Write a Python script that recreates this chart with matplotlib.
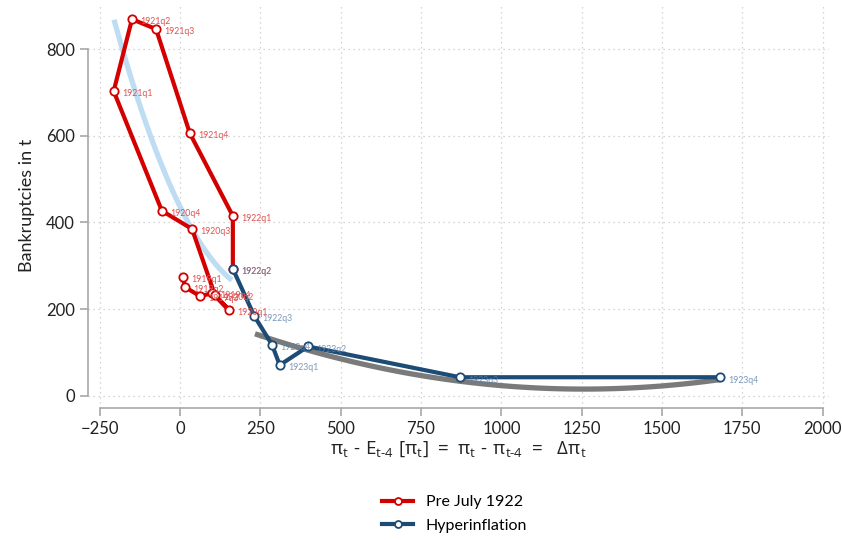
import numpy as np
import matplotlib.pyplot as plt
from matplotlib.lines import Line2D

plt.rcParams['font.family'] = ['Lato', 'DejaVu Sans']
plt.rcParams['mathtext.fontset'] = 'custom'
plt.rcParams['mathtext.rm'] = 'Open Sans'
plt.rcParams['mathtext.it'] = 'Open Sans'

# pre July 1922 quarters
pre_lab = ['1919q1', '1919q2', '1919q3', '1919q4', '1920q1', '1920q2', '1920q3',
           '1920q4', '1921q1', '1921q2', '1921q3', '1921q4', '1922q1', '1922q2']
pre_x = [8, 15, 62, 100, 152, 108, 37, -57, -207, -150, -75, 30, 164, 164]
pre_y = [274, 251, 230, 237, 198, 233, 385, 427, 703, 869, 846, 606, 415, 293]

# hyperinflation quarters
hyp_lab = ['1922q2', '1922q3', '1922q4', '1923q1', '1923q2', '1923q3', '1923q4']
hyp_x = [164, 231, 286, 310, 398, 871, 1681]
hyp_y = [293, 184, 118, 71, 114, 43, 43]

# quadratic fit curves
fit_pre_x = [-206, -178, -85, -7, 30, 114, 161]
fit_pre_y = [862, 798, 597, 445, 376, 314, 263]
fit_hyp_x = [233, 436, 747, 871, 1245, 1494, 1682]
fit_hyp_y = [141, 101, 48, 32, 16, 21, 39]

red = '#d40000'
navy = '#1c4b75'


def smooth(xs, ys):
    # draw a smooth quadratic through the read points
    c = np.polyfit(xs, ys, 2)
    gx = np.linspace(min(xs), max(xs), 120)
    return gx, np.polyval(c, gx)


fig = plt.figure(figsize=(8.42, 5.4), dpi=100)
ax = fig.add_axes([0.1045, 0.2444, 0.88, 0.749])

gx, gy = smooth(fit_pre_x, fit_pre_y)
ax.plot(gx, gy, color='#b3d6f0', lw=3.8, alpha=0.85, zorder=2, solid_capstyle='butt')
gx, gy = smooth(fit_hyp_x, fit_hyp_y)
ax.plot(gx, gy, color='#7a7a7a', lw=3.8, zorder=2, solid_capstyle='butt')

ax.plot(pre_x, pre_y, color=red, lw=3, marker='o', ms=6, mfc='white',
        mew=1.3, zorder=3)
ax.plot(hyp_x, hyp_y, color=navy, lw=3, marker='o', ms=6, mfc='white',
        mew=1.3, zorder=4)

for lab, x, y in zip(pre_lab, pre_x, pre_y):
    ax.annotate(lab, (x, y), xytext=(6, -2), textcoords='offset points',
                fontsize=6.3, color='#e05050', va='center', ha='left', zorder=5)
for lab, x, y in zip(hyp_lab, hyp_x, hyp_y):
    ax.annotate(lab, (x, y), xytext=(6, -2), textcoords='offset points',
                fontsize=6.3, color='#5b7ea6', va='center', ha='left', zorder=5,
                alpha=0.8)

ax.set_xlim(-287, 2020)
ax.set_ylim(-28, 905)
ax.set_xticks(range(-250, 2001, 250))
ax.set_yticks([0, 200, 400, 600, 800])

ax.grid(True, color='#c8c8c8', linestyle=(0, (1, 3)), lw=0.9)
ax.set_axisbelow(True)
for s in ['top', 'right']:
    ax.spines[s].set_visible(False)
for s in ['left', 'bottom']:
    ax.spines[s].set_color('#a8a8a8')
    ax.spines[s].set_linewidth(1.2)
ax.spines['left'].set_bounds(0, 800)
ax.spines['bottom'].set_bounds(-250, 2000)
ax.tick_params(colors='#a8a8a8', labelcolor='#222222', labelsize=12,
               length=6, width=1.2)

ax.set_ylabel('Bankruptcies in t', fontsize=13, color='#222222', labelpad=8)
ax.set_xlabel(r'$\mathrm{\pi_t\ \text{-}\ E_{t\text{-}4}\ [\pi_t]\ =\ \pi_t\ \text{-}\ \pi_{t\text{-}4}\ =\ \ \Delta\pi_t}$',
              fontsize=13.5, color='#222222', labelpad=2)

handles = [Line2D([], [], color=red, lw=3, marker='o', ms=5, mfc='white', mew=1.3),
           Line2D([], [], color=navy, lw=3, marker='o', ms=5, mfc='white', mew=1.3)]
fig.legend(handles, ['Pre July 1922', 'Hyperinflation'], loc='upper center',
           bbox_to_anchor=(0.54, 0.11), frameon=False, fontsize=11.5,
           handlelength=1.9, labelspacing=0.6)

fig.savefig('out.png', dpi=100)
